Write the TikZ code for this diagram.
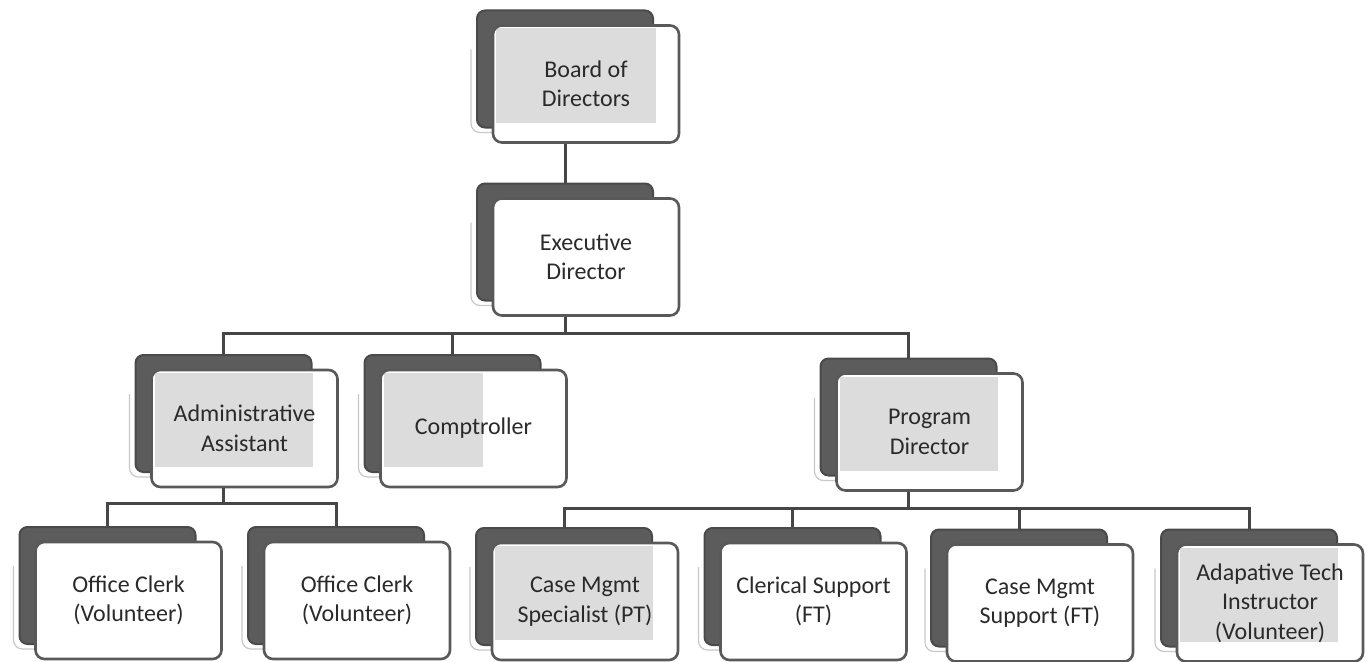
\documentclass[tikz,border=0pt]{standalone}
\usepackage{fontspec}
\setmainfont{Carlito}
\usetikzlibrary{calc}
\definecolor{cardgray}{HTML}{5C5C5C}
\definecolor{carddraw}{HTML}{4A4A4A}
\definecolor{boxdraw}{HTML}{595959}
\definecolor{txtgray}{HTML}{2A2A2A}
\definecolor{hlgray}{HTML}{DCDCDC}
\definecolor{ghostgray}{HTML}{C8C8C8}
\definecolor{conngray}{HTML}{464646}
\tikzset{
  backcard/.style={draw=carddraw, fill=cardgray, line width=2pt, rounded corners=8pt,
    minimum width=176pt, minimum height=117pt, inner sep=0pt},
  frontbox/.style={draw=boxdraw, fill=white, line width=2.6pt, rounded corners=9pt,
    minimum width=186pt, minimum height=117pt, inner sep=2pt, align=center,
    text=txtgray, font=\fontsize{24}{29.5}\selectfont},
  ghost/.style={draw=ghostgray, line width=1.2pt, rounded corners=9pt},
  hl/.style={path picture={\fill[hlgray, sharp corners] ([shift={(3,3)}]path picture bounding box.north west) rectangle ([shift={(#1,-20)}]path picture bounding box.south east);}},
  hl/.default=-25,
  conn/.style={draw=conngray, line width=3pt, line join=miter}
}
\newcommand\orgunit[5][]{%
  \node[backcard] (#2B) at (#3-21,#4-15) {};
  \draw[ghost] ([xshift=-5pt,yshift=-40pt]#2B.north west) -- ([xshift=-5pt,yshift=-4pt]#2B.south west) -- ([yshift=-4pt]#2B.south);
  \node[frontbox,#1] (#2) at (#3,#4) {#5};
}
\begin{document}
\begin{tikzpicture}[x=1pt,y=-1pt]
\useasboundingbox[fill=white] (0,0) rectangle (1372,661);

\orgunit[hl=-23]{board}{586}{84}{Board of\\Directors}
\orgunit{exec}{586}{257}{Executive\\Director}
\orgunit[hl=-25]{admin}{244.5}{428.5}{Administrative\\Assistant}
\orgunit[hl=-84]{comp}{473.5}{428.5}{Comptroller}
\orgunit[hl=-25]{prog}{929.5}{432}{Program\\Director}
\orgunit{clerkA}{128.5}{600.5}{Office Clerk\\(Volunteer)}
\orgunit{clerkB}{357}{600.5}{Office Clerk\\(Volunteer)}
\orgunit[hl=-25]{cms}{585}{601.5}{Case Mgmt\\Specialist (PT)}
\orgunit{cler}{813.5}{601.5}{Clerical Support\\(FT)}
\orgunit{cmsup}{1040}{603}{Case Mgmt\\Support (FT)}
\orgunit[hl=-25]{ati}{1270}{603}{Adapative Tech\\Instructor\\(Volunteer)}

\coordinate (busA) at (0,333);
\coordinate (busB) at (0,503);
\coordinate (busC) at (0,508);

\draw[conn] (boardB.center |- board.south) -- (execB.north);
\draw[conn] (execB.center |- exec.south) -- (execB.center |- busA);
\draw[conn] (adminB.north) -- (adminB.center |- busA) -- (progB.center |- busA) -- (progB.north);
\draw[conn] (compB.center |- busA) -- (compB.north);
\draw[conn] (adminB.center |- admin.south) -- (adminB.center |- busB);
\draw[conn] (clerkAB.north) -- (clerkAB.center |- busB) -- (clerkBB.center |- busB) -- (clerkBB.north);
\draw[conn] (progB.center |- prog.south) -- (progB.center |- busC);
\draw[conn] (cmsB.north) -- (cmsB.center |- busC) -- (atiB.center |- busC) -- (atiB.north);
\draw[conn] (clerB.center |- busC) -- (clerB.north);
\draw[conn] (cmsupB.center |- busC) -- (cmsupB.north);
\end{tikzpicture}
\end{document}
